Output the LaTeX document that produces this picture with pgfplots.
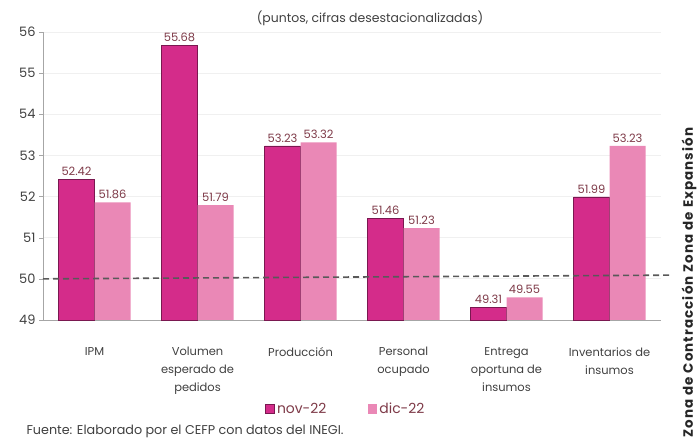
\documentclass[border=0pt]{standalone}
\usepackage{pgfplots}
\pgfplotsset{compat=1.18}
\usepackage{fontspec}
\setmainfont{Poppins}
\newfontfamily\sidefont[LetterSpace=8]{Poppins}
\definecolor{novc}{HTML}{D42C8A}
\definecolor{novd}{HTML}{7A1850}
\definecolor{dicc}{HTML}{EA88B6}
\definecolor{lab}{HTML}{7E3A48}
\definecolor{txt}{HTML}{404040}
\begin{document}
\begin{tikzpicture}[x=1bp,y=1bp]
\path[use as bounding box] (0,0) rectangle (700,443);
\begin{axis}[
  at={(43bp,123bp)}, anchor=south west,
  scale only axis, width=618bp, height=288bp,
  ymin=49, ymax=56, ytick={49,...,56},
  xmin=-0.5, xmax=5.5,
  xtick={0,...,5},
  xticklabels={IPM,{Volumen\\esperado de\\pedidos},Producción,{Personal\\ocupado},{Entrega\\oportuna de\\insumos},{Inventarios de\\insumos}},
  xticklabel style={align=center, font=\fontsize{11.5}{18}\selectfont, text=txt, yshift=-20bp},
  yticklabel style={font=\fontsize{13}{14}\selectfont, text=txt},
  /pgf/number format/assume math mode=true,
  major x tick style={draw=none},
  extra x ticks={0.5,1.5,2.5,3.5,4.5},
  extra x tick labels={},
  extra x tick style={major tick length=5bp, tick style={draw=gray!70}, grid=none},
  major tick length=4bp,
  tick align=outside,
  y tick style={draw=gray!70},
  axis x line*=bottom, axis y line*=left,
  axis line style={draw=gray!70},
  ymajorgrids, grid style={draw=gray!12, line width=0.8bp},
  ybar=0pt, bar width=36bp,
  nodes near coords,
  nodes near coords style={font=\fontsize{11.5}{12}\selectfont, text=lab, /pgf/number format/fixed, /pgf/number format/precision=2, /pgf/number format/fixed zerofill},
  legend style={at={(0.49,-0.31)}, anchor=center, draw=none, legend columns=2, font=\fontsize{14}{15}\selectfont, text=lab, /tikz/every even column/.append style={column sep=40bp}},
  legend image code/.code={\fill[#1] (0bp,-4.5bp) rectangle (9bp,5bp);},
  clip=false,
]
\addplot[fill=novc, draw=novd, line width=0.8bp] coordinates {(0,52.42) (1,55.68) (2,53.23) (3,51.46) (4,49.31) (5,51.99)};
\addplot[fill=dicc, draw=none] coordinates {(0,51.86) (1,51.79) (2,53.32) (3,51.23) (4,49.55) (5,53.23)};
\legend{nov-22,dic-22}
\draw[dashed, dash pattern=on 6bp off 4bp, line width=1.6bp, draw=black!65] (axis cs:-0.5,50) -- (axis cs:5.59,50.09);
\end{axis}
\node[font=\fontsize{12.5}{14}\selectfont, text=txt] at (370,425) {(puntos, cifras desestacionalizadas)};
\node[font=\fontsize{12.8}{14}\selectfont, text=txt, anchor=west] at (23,12) {Fuente: Elaborado por el CEFP con datos del INEGI.};
\node[font=\sidefont\bfseries\fontsize{13.5}{14}\selectfont, text=black!85, rotate=90, anchor=west] at (689,2) {Zona de Contracción Zona de Expansión};
\end{tikzpicture}
\end{document}
